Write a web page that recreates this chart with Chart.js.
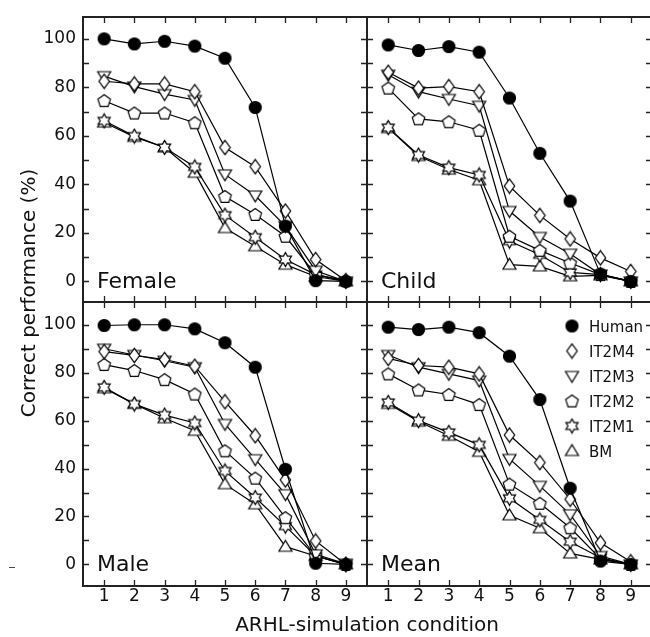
<!DOCTYPE html>
<html><head><meta charset="utf-8">
<script src="https://cdn.jsdelivr.net/npm/chart.js@4.4.0/dist/chart.umd.min.js"></script>
<style>
html,body{margin:0;padding:0;background:#fff;width:650px;height:637px;overflow:hidden;position:relative;font-family:"DejaVu Sans",sans-serif;}
canvas{position:absolute;}
#ytitle{position:absolute;left:28px;top:293px;transform:translate(-50%,-50%) rotate(-90deg);font-size:20px;white-space:nowrap;color:#111;}
#xtitle{position:absolute;left:367px;top:624px;transform:translate(-50%,-50%);font-size:20px;white-space:nowrap;color:#111;}
#dash{position:absolute;left:9px;top:567px;width:6px;height:1px;background:#444;}
</style></head>
<body>
<canvas id="cF" width="367" height="302" style="left:0;top:0"></canvas>
<canvas id="cC" width="285" height="302" style="left:367px;top:0"></canvas>
<canvas id="cM" width="367" height="335" style="left:0;top:302px"></canvas>
<canvas id="cA" width="285" height="335" style="left:367px;top:302px"></canvas>
<div id="ytitle">Correct performance (%)</div>
<div id="xtitle">ARHL-simulation condition</div>
<div id="dash"></div>
<script>
// ---- data ----
const conditions = [1,2,3,4,5,6,7,8,9];
const seriesNames = ['Human','IT2M4','IT2M3','IT2M2','IT2M1','BM'];
const yTickLabels = [0,20,40,60,80,100];

const femaleHuman = [100, 97.9, 99, 97, 92, 71.7, 22.8, 0.3, 0];
const femaleIT2M4 = [82.5, 81.4, 81.4, 78.2, 55.2, 47.3, 29, 9, 0.3];
const femaleIT2M3 = [84.6, 80.3, 77.2, 74.8, 44.1, 35.4, 22.8, 4.4, 0];
const femaleIT2M2 = [74.5, 69.4, 69.4, 65.4, 35, 27.6, 18.6, 2.8, 0.3];
const femaleIT2M1 = [66.2, 59.9, 55.2, 47.2, 27.3, 18.2, 9, 2.8, 0];
const femaleBM    = [65.5, 59.6, 55.2, 44.8, 22, 14.5, 6.9, 2, 0];

const childHuman = [97.5, 95.2, 96.8, 94.5, 75.6, 52.8, 33.1, 3, 0];
const childIT2M4 = [86.2, 79.7, 80.3, 78.2, 39.3, 27.2, 17.5, 9.7, 4.1];
const childIT2M3 = [85.2, 78.2, 75.2, 72.4, 29, 18.3, 11.4, 2.8, 0];
const childIT2M2 = [79.7, 67, 65.8, 62.3, 18.6, 12.8, 7.6, 2.8, 0];
const childIT2M1 = [63.4, 52.1, 46.9, 43.9, 16.6, 11, 3.7, 2.8, 0];
const childBM    = [63.2, 51.7, 46.1, 41.7, 6.9, 6.2, 2.1, 2.5, 0];

const maleHuman = [99.7, 100, 100, 98.3, 92.5, 82.3, 39.7, 0.5, 0];
const maleIT2M4 = [88.8, 87.2, 85.5, 82.7, 67.9, 53.7, 35.3, 9.8, 0];
const maleIT2M3 = [90, 87.4, 85, 82.3, 58.6, 43.9, 29.3, 4.2, 0.3];
const maleIT2M2 = [83.4, 80.9, 77.1, 71.1, 47.4, 36, 19.5, 3.5, 0];
const maleIT2M1 = [73.9, 66.9, 62.3, 59, 39, 27.9, 16, 3.5, 0];
const maleBM    = [73.5, 67, 61, 55.8, 33.5, 25.1, 7.4, 3.5, 0];

const meanHuman = [99, 98, 99, 96.7, 86.9, 68.8, 31.8, 1.4, 0];
const meanIT2M4 = [86, 83, 82.3, 79.5, 54, 42.5, 27.2, 9, 1.1];
const meanIT2M3 = [87.4, 82.3, 79.5, 76.7, 44, 32.8, 20.9, 3.5, 0];
const meanIT2M2 = [79.5, 72.8, 70.9, 66.7, 33.5, 25.5, 15.3, 2.4, 0];
const meanIT2M1 = [67.6, 60, 55.1, 49.9, 27.6, 18.6, 9.5, 2.8, 0];
const meanBM    = [67, 59.6, 53.7, 47, 20.5, 15.1, 4.6, 2.1, 0];

// ---- markers ----
function marker(kind){
  const c = document.createElement('canvas');
  const W = 17, H = 17; c.width = W; c.height = H;
  const g = c.getContext('2d');
  const cx = W/2, cy = H/2;
  g.lineWidth = 1.2; g.strokeStyle = '#000'; g.fillStyle = '#fff';
  g.beginPath();
  if (kind === 'circle') { g.fillStyle = '#000'; g.arc(cx, cy, 6, 0, Math.PI*2); }
  else if (kind === 'diamond') { g.moveTo(cx, cy-7.2); g.lineTo(cx+5.2, cy); g.lineTo(cx, cy+7.2); g.lineTo(cx-5.2, cy); g.closePath(); }
  else if (kind === 'down') { g.moveTo(cx-6.5, cy-4.5); g.lineTo(cx+6.5, cy-4.5); g.lineTo(cx, cy+6.3); g.closePath(); }
  else if (kind === 'up') { g.moveTo(cx-6.5, cy+4.5); g.lineTo(cx+6.5, cy+4.5); g.lineTo(cx, cy-6.3); g.closePath(); }
  else if (kind === 'pent') {
    for (let k=0;k<5;k++){ const a=(-90+72*k)*Math.PI/180; const px=cx+6.6*Math.cos(a), py=cy+0.6+6.6*Math.sin(a); k?g.lineTo(px,py):g.moveTo(px,py); }
    g.closePath();
  } else if (kind === 'hex') {
    for (let k=0;k<12;k++){ const a=(-90+30*k)*Math.PI/180; const r=(k%2===0)?7:4.0; const px=cx+r*Math.cos(a), py=cy+r*Math.sin(a); k?g.lineTo(px,py):g.moveTo(px,py); }
    g.closePath();
  }
  g.fill(); g.stroke();
  return c;
}
const markers = ['circle','diamond','down','pent','hex','up'].map(marker);

// ---- plugins ----
const deco = {
  id: 'deco',
  beforeDatasetsDraw(chart, args, opts){
    const {ctx, chartArea:a, scales:{x, y}} = chart;
    ctx.save();
    ctx.strokeStyle = '#222';
    ctx.lineWidth = 1.3;
    ctx.beginPath();
    for (let v = 0; v <= 100; v += 10) {
      const py = Math.round(y.getPixelForValue(v)) + 0.5;
      ctx.moveTo(a.left, py); ctx.lineTo(a.left+6, py);
      ctx.moveTo(a.right-6, py); ctx.lineTo(a.right, py);
    }
    conditions.forEach(c => {
      const px = Math.round(x.getPixelForValue(c)) + 0.5;
      ctx.moveTo(px, a.top); ctx.lineTo(px, a.top+6);
      ctx.moveTo(px, a.bottom-6); ctx.lineTo(px, a.bottom);
    });
    ctx.stroke();
    ctx.lineWidth = 2;
    ctx.strokeRect(a.left, a.top, a.right-a.left, a.bottom-a.top);
    // panel label
    ctx.fillStyle = '#111';
    ctx.font = '22px "DejaVu Sans"';
    ctx.textBaseline = 'alphabetic';
    ctx.textAlign = 'left';
    ctx.fillText(opts.title, a.left + 14, y.getPixelForValue(0) + 7);
    ctx.restore();
  },
  afterDatasetsDraw(chart, args, opts){
    if (!opts.legend) return;
    const {ctx, chartArea:a} = chart;
    ctx.save();
    ctx.font = '15px "DejaVu Sans"';
    ctx.fillStyle = '#111';
    ctx.textBaseline = 'alphabetic';
    ctx.textAlign = 'left';
    chart.data.datasets.forEach((ds, i) => {
      const cy = a.top + 24 + i*25;
      const img = ds.pointStyle;
      ctx.drawImage(img, a.left + 205 - img.width/2, cy - img.height/2);
      ctx.fillText(ds.label, a.left + 222, cy + 5.5);
    });
    ctx.restore();
  }
};

function zeroPad(s){ s.paddingTop = 0; s.paddingBottom = 0; s.paddingLeft = 0; s.paddingRight = 0; }

function makeChart(id, title, series, o){
  const datasets = seriesNames.map((n, i) => ({
    label: n,
    data: conditions.map((c, j) => ({x: c, y: series[i][j]})),
    pointStyle: markers[i],
    pointRadius: 6,
    borderColor: '#000',
    borderWidth: 1.2,
    tension: 0,
    fill: false,
    clip: false
  }));
  return new Chart(document.getElementById(id), {
    type: 'line',
    data: { datasets },
    options: {
      responsive: false,
      animation: false,
      events: [],
      layout: { autoPadding: false, padding: { top: o.padTop, left: 0, right: 0, bottom: 0 } },
      plugins: { legend: { display: false }, tooltip: { enabled: false }, deco: { title, legend: o.legend } },
      scales: {
        x: {
          type: 'linear', min: 0.3, max: 9.7,
          display: o.showX,
          afterBuildTicks: s => { s.ticks = conditions.map(v => ({value: v})); },
          afterFit: s => { if (o.showX) s.height = 51; zeroPad(s); },
          grid: { display: false, drawTicks: false },
          border: { display: false },
          ticks: { padding: 0, color: '#111', font: { family: 'DejaVu Sans', size: 17 }, maxRotation: 0, autoSkip: false, callback: v => String(v) }
        },
        y: {
          type: 'linear', min: o.ymin, max: o.ymax,
          display: o.showY,
          afterBuildTicks: s => { s.ticks = yTickLabels.map(v => ({value: v})); },
          afterFit: s => { if (o.showY) s.width = 83; zeroPad(s); },
          grid: { display: false, drawTicks: false },
          border: { display: false },
          ticks: { padding: 7, color: '#111', font: { family: 'DejaVu Sans', size: 17 }, callback: v => String(v) }
        }
      }
    },
    plugins: [deco]
  });
}

makeChart('cF', 'Female', [femaleHuman, femaleIT2M4, femaleIT2M3, femaleIT2M2, femaleIT2M1, femaleBM],
  {padTop: 17, showX: false, showY: true, ymin: -8.5, ymax: 109, legend: false});
makeChart('cC', 'Child', [childHuman, childIT2M4, childIT2M3, childIT2M2, childIT2M1, childBM],
  {padTop: 17, showX: false, showY: false, ymin: -8.5, ymax: 109, legend: false});
makeChart('cM', 'Male', [maleHuman, maleIT2M4, maleIT2M3, maleIT2M2, maleIT2M1, maleBM],
  {padTop: 0, showX: true, showY: true, ymin: -9, ymax: 109.5, legend: false});
makeChart('cA', 'Mean', [meanHuman, meanIT2M4, meanIT2M3, meanIT2M2, meanIT2M1, meanBM],
  {padTop: 0, showX: true, showY: false, ymin: -9, ymax: 109.5, legend: true});
</script>
</body></html>
